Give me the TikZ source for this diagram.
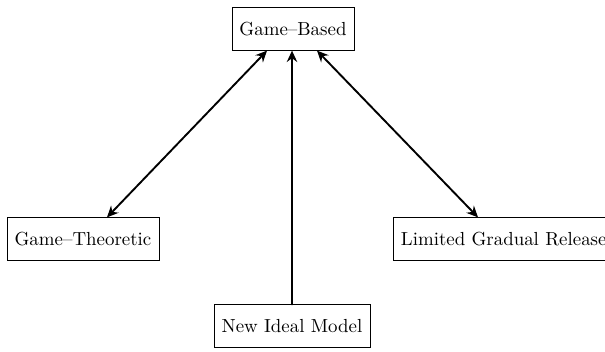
\documentclass[tikz,border=0pt]{standalone}
\usetikzlibrary{calc,arrows.meta}
\begin{document}
\begin{tikzpicture}[
    x=0.529pt, y=-0.529pt,
    line cap=round,
    box/.style={draw, inner xsep=4pt, minimum height=22.5pt},
    link/.style={line width=1pt, >={Stealth[length=6pt,width=5.5pt,inset=2pt]}}
]
\useasboundingbox (0,0) rectangle (605,352);

\node[box] (gb) at (293,29) {Game--Based};
\node[box] (gt) at (83,239) {Game--Theoretic};
\node[box, anchor=west] (lgr) at (393,239) {Limited Gradual Release};
\node[box] (nim) at (292,326) {New Ideal Model};

\draw[link, <->] ($(gb.south)+(-26,0)$) -- ($(gt.north)+(24,0)$);
\draw[link, <->] ($(gb.south)+(24,0)$) -- ($(lgr.north west)+(85,0)$);
\draw[link, ->] (nim.north) -- (nim.north |- gb.south);
\end{tikzpicture}
\end{document}
